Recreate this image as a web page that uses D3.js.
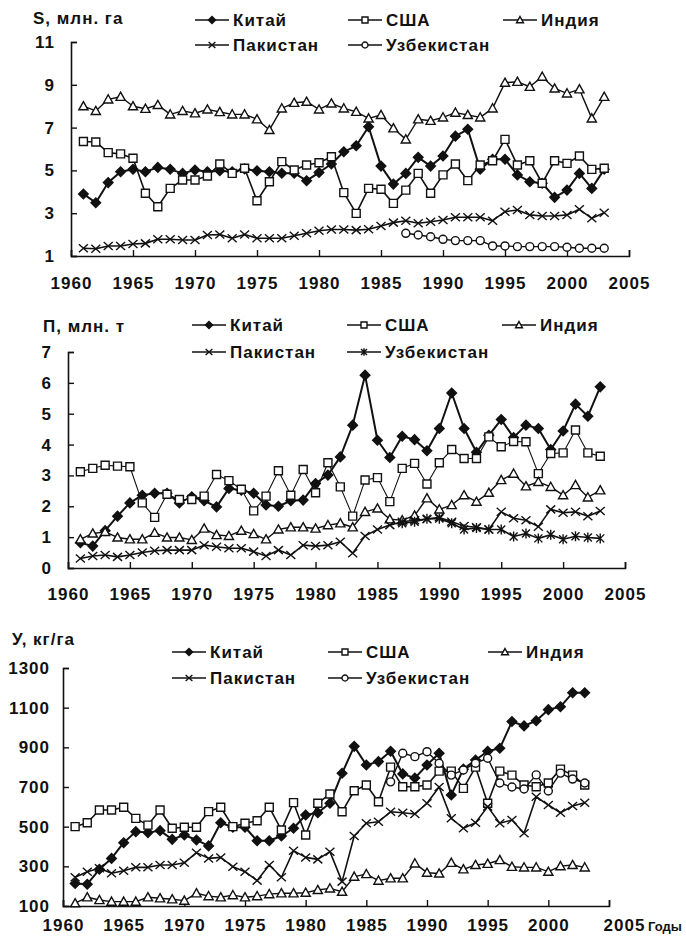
<!DOCTYPE html>
<html>
<head>
<meta charset="utf-8">
<script src="https://cdn.jsdelivr.net/npm/d3@7"></script>
<style>
    body { margin: 0; background: #fff; }
    svg text {
        font-family: "Liberation Sans", Arial, sans-serif;
        font-weight: bold;
        font-size: 17px;
        fill: #111;
        letter-spacing: 1px;
    }
</style>
</head>
<body>
<script>
// ---- data ----
const years = [1961, 1962, 1963, 1964, 1965, 1966, 1967, 1968, 1969, 1970,
    1971, 1972, 1973, 1974, 1975, 1976, 1977, 1978, 1979, 1980,
    1981, 1982, 1983, 1984, 1985, 1986, 1987, 1988, 1989, 1990,
    1991, 1992, 1993, 1994, 1995, 1996, 1997, 1998, 1999, 2000,
    2001, 2002, 2003];
const uzYears = [1987, 1988, 1989, 1990, 1991, 1992, 1993, 1994, 1995,
    1996, 1997, 1998, 1999, 2000, 2001, 2002, 2003];
const xTicks = [1960, 1965, 1970, 1975, 1980, 1985, 1990, 1995, 2000, 2005];

// S, million ha
const areaChina = [3.9, 3.49, 4.43, 4.94, 5.05, 4.94, 5.14, 5.05, 4.86, 5.02,
    4.94, 4.98, 4.94, 5.07, 4.98, 4.94, 4.87, 4.87, 4.52, 4.9,
    5.3, 5.87, 6.15, 7.04, 5.2, 4.36, 4.86, 5.61, 5.2, 5.67,
    6.6, 6.92, 5.05, 5.52, 5.52, 4.79, 4.47, 4.4, 3.74, 4.08,
    4.86, 4.16, 5.05];
const areaUSA = [6.35, 6.33, 5.83, 5.77, 5.57, 3.93, 3.3, 4.16, 4.55, 4.55,
    4.74, 5.3, 4.86, 5.1, 3.58, 4.47, 5.41, 5.02, 5.25, 5.36,
    5.64, 3.96, 2.99, 4.16, 4.12, 3.46, 4.08, 4.86, 3.93, 4.79,
    5.3, 4.52, 5.25, 5.45, 6.45, 5.25, 5.45, 4.4, 5.45, 5.33,
    5.67, 5.05, 5.1];
const areaIndia = [8.0, 7.78, 8.32, 8.44, 8.0, 7.88, 8.06, 7.62, 7.78, 7.67,
    7.85, 7.73, 7.62, 7.62, 7.39, 6.89, 7.9, 8.16, 8.21, 7.85,
    8.13, 7.9, 7.74, 7.43, 7.59, 6.97, 6.45, 7.39, 7.32, 7.48,
    7.7, 7.59, 7.48, 7.9, 9.1, 9.14, 8.91, 9.38, 8.83, 8.6,
    8.79, 7.43, 8.44];
const areaPakistan = [1.36, 1.34, 1.47, 1.47, 1.56, 1.59, 1.78, 1.78, 1.75, 1.75,
    1.98, 2.0, 1.83, 2.0, 1.83, 1.83, 1.83, 1.95, 2.06, 2.18,
    2.24, 2.24, 2.21, 2.25, 2.4, 2.56, 2.65, 2.53, 2.6, 2.68,
    2.81, 2.81, 2.81, 2.65, 3.07, 3.15, 2.92, 2.87, 2.87, 2.92,
    3.18, 2.76, 3.02];
const areaUzbek = [2.06, 1.98, 1.9, 1.78, 1.72, 1.72, 1.72, 1.47, 1.47,
    1.44, 1.44, 1.44, 1.44, 1.41, 1.36, 1.36, 1.36];

// П, million t
const prodChina = [0.82, 0.71, 1.21, 1.68, 2.11, 2.36, 2.42, 2.42, 2.11, 2.31,
    2.18, 1.98, 2.58, 2.52, 2.42, 2.04, 2.0, 2.18, 2.2, 2.74,
    3.01, 3.6, 4.63, 6.25, 4.14, 3.58, 4.27, 4.16, 3.8, 4.52,
    5.67, 4.52, 3.75, 4.3, 4.81, 4.23, 4.63, 4.52, 3.84, 4.44,
    5.31, 4.92, 5.87];
const prodUSA = [3.12, 3.23, 3.33, 3.3, 3.28, 2.11, 1.64, 2.39, 2.22, 2.22,
    2.33, 3.03, 2.83, 2.55, 1.85, 2.33, 3.15, 2.36, 3.19, 2.44,
    3.41, 2.63, 1.68, 2.85, 2.93, 2.15, 3.23, 3.39, 2.72, 3.41,
    3.84, 3.55, 3.55, 4.25, 3.93, 4.1, 4.09, 3.06, 3.71, 3.73,
    4.47, 3.73, 3.62];
const prodIndia = [0.93, 1.12, 1.17, 0.99, 0.93, 0.93, 1.14, 0.99, 0.99, 0.91,
    1.28, 1.07, 1.04, 1.21, 1.1, 0.93, 1.25, 1.32, 1.32, 1.28,
    1.39, 1.45, 1.32, 1.82, 1.93, 1.58, 1.55, 1.7, 2.26, 1.9,
    2.04, 2.36, 2.15, 2.44, 2.85, 3.06, 2.65, 2.79, 2.63, 2.36,
    2.69, 2.29, 2.52];
const prodPakistan = [0.31, 0.39, 0.42, 0.36, 0.42, 0.5, 0.56, 0.58, 0.58, 0.58,
    0.74, 0.69, 0.64, 0.64, 0.53, 0.39, 0.58, 0.42, 0.74, 0.71,
    0.74, 0.85, 0.48, 1.04, 1.25, 1.39, 1.5, 1.55, 1.58, 1.64,
    1.5, 1.36, 1.32, 1.25, 1.82, 1.61, 1.55, 1.34, 1.9, 1.79,
    1.82, 1.68, 1.85];
const prodUzbek = [1.45, 1.5, 1.6, 1.6, 1.45, 1.25, 1.3, 1.25, 1.25,
    1.02, 1.12, 0.96, 1.08, 0.93, 1.03, 0.99, 0.96];

// У, kg/ha
const yieldChina = [214, 210, 285, 340, 419, 475, 470, 480, 436, 458,
    433, 403, 520, 497, 497, 429, 429, 453, 492, 559,
    570, 618, 769, 905, 811, 828, 880, 766, 745, 811,
    870, 660, 790, 836, 880, 895, 1030, 1008, 1034, 1090,
    1105, 1175, 1175];
const yieldUSA = [500, 520, 584, 584, 598, 542, 508, 584, 492, 497,
    497, 576, 598, 500, 517, 530, 598, 483, 621, 458,
    618, 665, 575, 681, 710, 626, 800, 701, 701, 710,
    780, 780, 693, 800, 618, 780, 760, 710, 701, 720,
    790, 760, 710];
const yieldIndia = [114, 144, 130, 122, 122, 122, 144, 139, 134, 127,
    164, 150, 144, 155, 144, 150, 160, 164, 164, 167,
    181, 189, 172, 248, 261, 228, 240, 240, 315, 268,
    264, 318, 285, 307, 313, 332, 298, 295, 295, 273,
    301, 307, 295];
const yieldPakistan = [245, 273, 290, 265, 278, 295, 295, 307, 307, 318,
    369, 340, 345, 298, 273, 228, 307, 245, 379, 345,
    335, 374, 223, 453, 517, 525, 575, 570, 564, 618,
    700, 542, 492, 520, 601, 517, 534, 467, 651, 609,
    570, 604, 621];
const yieldUzbek = [726, 870, 853, 878, 820, 760, 786, 820, 845,
    720, 700, 690, 761, 680, 770, 740, 720];

// ---- marker shapes ----
const markerPath = {
    diamond: 'M0,-4.8L4.8,0L0,4.8L-4.8,0Z',
    square: 'M-4,-4H4V4H-4Z',
    triangle: 'M0,-4.6L4.6,3.6H-4.6Z',
    cross: 'M-4.5,-4L4.5,4M4.5,-4L-4.5,4',
    circle: 'M4,0A4,4 0 1,1 -4,0A4,4 0 1,1 4,0Z',
    star: 'M-4,-4L4,4M4,-4L-4,4M0,-5V5'
};
const markerFill = { diamond: '#111', square: '#fff', triangle: '#fff', cross: 'none', circle: '#fff', star: 'none' };

function series(name, marker, xs, ys, width) {
    return { name, marker, data: xs.map((yr, i) => ({ yr, v: ys[i] })), width };
}

const panels = [
    {
        title: 'S, млн. га', titleX: 33, titleY: 24,
        left: 71, right: 629, bottom: 256, top: 42,
        yDomain: [1, 11], yTicks: [1, 3, 5, 7, 9, 11], yPad: 16, xPad: 21,
        legendY: [20, 45], legendX: [195, 348, 503],
        series: [
            series('Китай', 'diamond', years, areaChina, 2),
            series('США', 'square', years, areaUSA, 1.6),
            series('Индия', 'triangle', years, areaIndia, 1.4),
            series('Пакистан', 'cross', years, areaPakistan, 1.6),
            series('Узбекистан', 'circle', uzYears, areaUzbek, 1.4)
        ]
    },
    {
        title: 'П, млн. т', titleX: 43, titleY: 332,
        left: 68, right: 625, bottom: 568, top: 352,
        yDomain: [0, 7], yTicks: [0, 1, 2, 3, 4, 5, 6, 7], yPad: 16, xPad: 20,
        legendY: [325, 352], legendX: [192, 347, 502],
        series: [
            series('Китай', 'diamond', years, prodChina, 2),
            series('США', 'square', years, prodUSA, 1.1),
            series('Индия', 'triangle', years, prodIndia, 1.4),
            series('Пакистан', 'cross', years, prodPakistan, 1.6),
            series('Узбекистан', 'star', uzYears, prodUzbek, 1.6)
        ]
    },
    {
        title: 'У, кг/га', titleX: 12, titleY: 645,
        left: 63, right: 609, bottom: 906, top: 668,
        yDomain: [100, 1300], yTicks: [100, 300, 500, 700, 900, 1100, 1300], yPad: 13, xPad: 13,
        legendY: [652, 678], legendX: [172, 328, 488],
        series: [
            series('Китай', 'diamond', years, yieldChina, 2),
            series('США', 'square', years, yieldUSA, 1.6),
            series('Индия', 'triangle', years, yieldIndia, 1.4),
            series('Пакистан', 'cross', years, yieldPakistan, 1.6),
            series('Узбекистан', 'circle', uzYears, yieldUzbek, 1.4)
        ],
        lastLabelShift: 15
    }
];

const svg = d3.select('body').append('svg')
    .attr('width', 686)
    .attr('height', 940);

function drawMarker(sel, marker, scale) {
    sel.append('path')
        .attr('d', markerPath[marker])
        .attr('transform', scale ? `scale(${scale})` : null)
        .attr('fill', markerFill[marker])
        .attr('stroke', '#111')
        .attr('stroke-width', 1.4 / (scale || 1));
}

function drawPanel(p) {
    const g = svg.append('g');
    const x = d3.scaleLinear().domain([1960, 2005]).range([p.left, p.right]);
    const y = d3.scaleLinear().domain(p.yDomain).range([p.bottom, p.top]);

    // axes, ticks pointing inside
    const xAxis = g.append('g')
        .attr('transform', `translate(0,${p.bottom})`)
        .call(d3.axisBottom(x).tickValues(xTicks).tickFormat(d3.format('d'))
            .tickSizeInner(-6).tickSizeOuter(-6).tickPadding(p.xPad));
    const yAxis = g.append('g')
        .attr('transform', `translate(${p.left},0)`)
        .call(d3.axisLeft(y).tickValues(p.yTicks).tickFormat(d3.format('d'))
            .tickSizeInner(-6).tickSizeOuter(-6).tickPadding(p.yPad));
    [xAxis, yAxis].forEach(a => {
        a.select('.domain').attr('stroke', '#111').attr('stroke-width', 1.6);
        a.selectAll('.tick line').attr('stroke', '#111').attr('stroke-width', 1.4);
    });
    if (p.lastLabelShift) {
        xAxis.selectAll('.tick text').filter(d => d === 2005).attr('dx', p.lastLabelShift);
    }

    g.append('text').attr('x', p.titleX).attr('y', p.titleY).text(p.title);

    const line = d3.line().x(d => x(d.yr)).y(d => y(d.v));
    p.series.forEach(s => {
        g.append('path')
            .datum(s.data)
            .attr('d', line)
            .attr('fill', 'none')
            .attr('stroke', '#111')
            .attr('stroke-width', s.width)
            .attr('stroke-linejoin', 'round');
        g.append('g').selectAll('g')
            .data(s.data)
            .enter().append('g')
            .attr('transform', d => `translate(${x(d.yr)},${y(d.v)})`)
            .each(function() { drawMarker(d3.select(this), s.marker); });
    });

    // legend: three per row
    p.series.forEach((s, i) => {
        const lx = p.legendX[i % 3];
        const ly = p.legendY[Math.floor(i / 3)];
        const item = g.append('g').attr('transform', `translate(${lx},${ly})`);
        item.append('line').attr('x1', 0).attr('x2', 34).attr('y1', 0).attr('y2', 0)
            .attr('stroke', '#111').attr('stroke-width', 1.5);
        drawMarker(item.append('g').attr('transform', 'translate(17,0)'), s.marker, 0.75);
        item.append('text').attr('x', 38).attr('y', 6).text(s.name);
    });
}

panels.forEach(drawPanel);

// axis caption at the right edge, a bit smaller so that it fits
svg.append('text')
    .attr('x', 648).attr('y', 931)
    .style('font-size', '13px')
    .style('letter-spacing', '0px')
    .text('Годы');
</script>
</body>
</html>
